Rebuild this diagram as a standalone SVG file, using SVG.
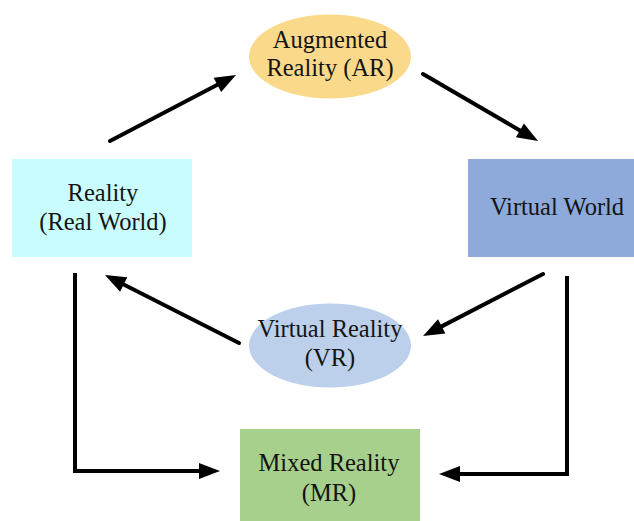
<svg xmlns="http://www.w3.org/2000/svg" width="634" height="521" viewBox="0 0 634 521">
<style>
  text { font-family: "Liberation Serif", "Times New Roman", serif; font-size: 24.5px; fill: #141414; text-anchor: middle; }
  .conn { fill: none; stroke: #000; stroke-width: 4; }
  .diag { stroke-linecap: round; }
  .elbow { stroke-linejoin: miter; stroke-linecap: butt; }
</style>
<defs>
  <marker id="arrow" markerUnits="userSpaceOnUse" markerWidth="21" markerHeight="16" refX="0" refY="8" orient="auto" overflow="visible">
    <path d="M0,0 L21,8 L0,16 Z" fill="#000"/>
  </marker>
</defs>
<rect width="634" height="521" fill="#fff"/>

<g id="node-reality">
  <rect x="12" y="159" width="180" height="98" fill="#c8fcfd"/>
  <text x="103" y="201">Reality</text>
  <text x="103" y="230">(Real World)</text>
</g>

<g id="node-ar">
  <ellipse cx="330" cy="56.5" rx="81" ry="42" fill="#fbd98b"/>
  <text x="330" y="48">Augmented</text>
  <text x="330" y="76">Reality (AR)</text>
</g>

<g id="node-virtual-world">
  <rect x="468" y="159" width="170" height="98" fill="#8eaadb"/>
  <text x="557" y="215">Virtual World</text>
</g>

<g id="node-vr">
  <ellipse cx="330" cy="345.5" rx="81" ry="42" fill="#bcd0eb"/>
  <text x="330" y="337">Virtual Reality</text>
  <text x="330" y="366">(VR)</text>
</g>

<g id="node-mr">
  <rect x="240" y="429" width="180" height="95" fill="#a8d08d"/>
  <text x="329" y="471">Mixed Reality</text>
  <text x="329" y="501">(MR)</text>
</g>

<g id="connectors">
  <path class="conn diag" d="M110,141 L217.4,84.8" marker-end="url(#arrow)"/>
  <path class="conn diag" d="M423,74 L519.9,130.4" marker-end="url(#arrow)"/>
  <path class="conn diag" d="M543,274 L441.7,326.4" marker-end="url(#arrow)"/>
  <path class="conn diag" d="M239,343 L123.7,284.5" marker-end="url(#arrow)"/>
  <path class="conn elbow" d="M75,273 V471 H199" marker-end="url(#arrow)"/>
  <path class="conn elbow" d="M567,276 V474 H460" marker-end="url(#arrow)"/>
</g>
</svg>
